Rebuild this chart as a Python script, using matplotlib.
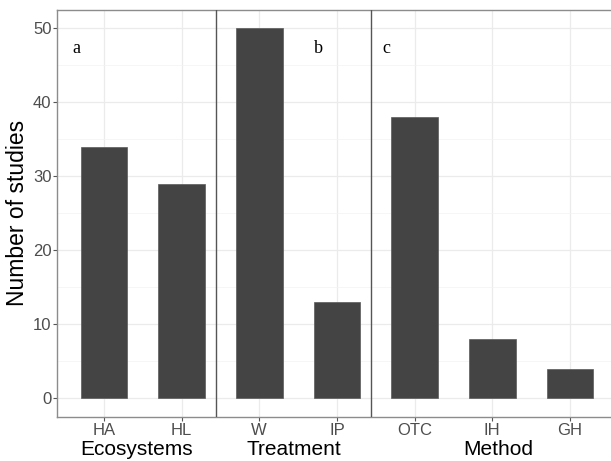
import matplotlib

matplotlib.use("Agg")
import matplotlib.pyplot as plt
from matplotlib.ticker import MultipleLocator

# data
groups = ["Ecosystems", "Treatment", "Method"]
group_categories = [["HA", "HL"], ["W", "IP"], ["OTC", "IH", "GH"]]
group_counts = [[34, 29], [50, 13], [38, 8, 4]]
panel_letters = ["a", "b", "c"]

# text placement (data x)
letter_x = [0.64, 3.76, 4.64]
letter_y = 47.3
group_label_x = [1.42, 3.44, 6.08]


def main() -> None:
    plt.rcParams["font.family"] = ["Liberation Sans", "DejaVu Sans"]

    categories = [c for cats in group_categories for c in cats]
    counts = [v for vals in group_counts for v in vals]
    xs = list(range(1, len(categories) + 1))

    fig = plt.figure(figsize=(6.11, 4.61), dpi=100)
    ax = fig.add_axes([57.3 / 611, 44.3 / 461, 559.3 / 611, 406.7 / 461])

    ax.bar(xs, counts, width=0.6, color="#444444", edgecolor="#5a5a5a", linewidth=0.5, zorder=3)

    ax.set_xlim(0.4, len(categories) + 0.6)
    ax.set_ylim(-2.5, 52.5)
    ax.set_xticks(xs)
    ax.set_xticklabels(categories)
    ax.yaxis.set_major_locator(MultipleLocator(10))
    ax.yaxis.set_minor_locator(MultipleLocator(5))

    ax.grid(which="major", color="#EBEBEB", linewidth=0.9, zorder=0)
    ax.grid(which="minor", axis="y", color="#F3F3F3", linewidth=0.5, zorder=0)
    ax.set_axisbelow(True)

    for side in ["left", "bottom", "top"]:
        ax.spines[side].set_color("#8C8C8C")
        ax.spines[side].set_linewidth(1.0)
    ax.spines["right"].set_visible(False)

    ax.tick_params(axis="both", which="major", length=2.75, width=0.8, color="#555555",
                   labelsize=12, labelcolor="#4D4D4D", pad=1.5)
    ax.tick_params(axis="y", which="minor", length=0)

    # dividers between groups
    pos = 0
    for cats in group_categories[:-1]:
        pos += len(cats)
        ax.axvline(pos + 0.44, color="#555555", linewidth=1.0, zorder=4)

    # group titles under the axis
    for name, gx in zip(groups, group_label_x):
        px = ax.transData.transform((gx, 0))[0] / fig.bbox.width
        fig.text(px, 6.0 / 461, name, ha="center", va="baseline", fontsize=15, color="black")

    for letter, lx in zip(panel_letters, letter_x):
        ax.text(lx, letter_y, letter, ha="center", va="center", fontsize=13,
                family=["Liberation Serif", "DejaVu Serif"], color="black")

    ax.set_ylabel("Number of studies", fontsize=16.5, color="black", labelpad=3)

    fig.savefig("out.png", dpi=100)


if __name__ == "__main__":
    main()
